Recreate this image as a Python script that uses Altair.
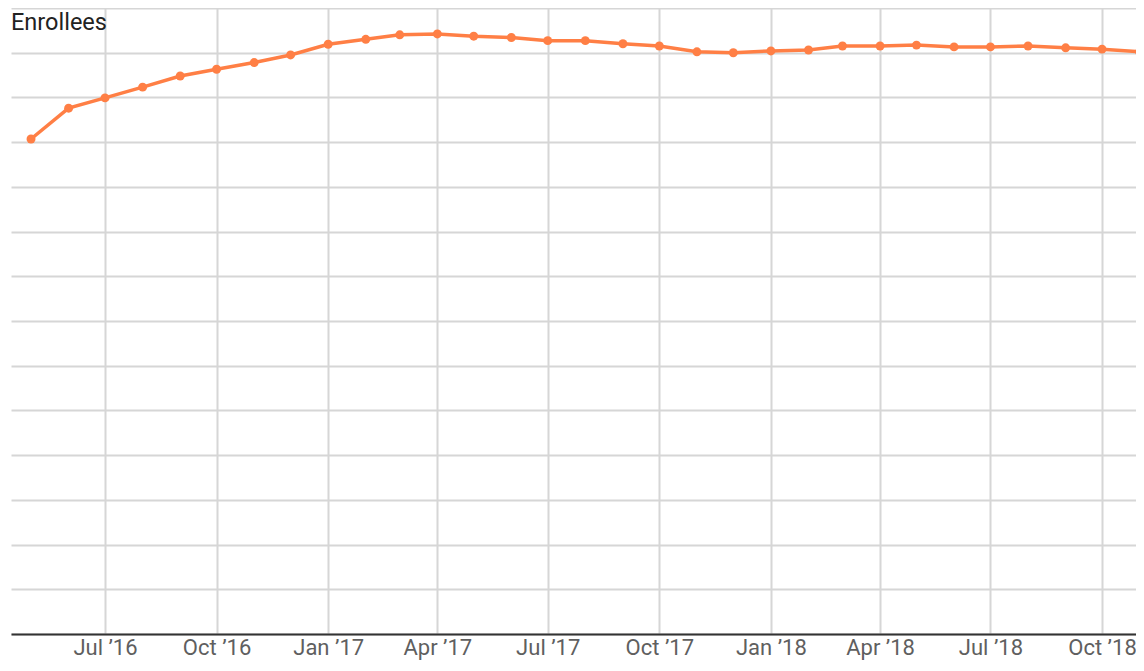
import altair as alt
import pandas as pd

months = [
    "2016-05-01", "2016-06-01", "2016-07-01", "2016-08-01", "2016-09-01", "2016-10-01",
    "2016-11-01", "2016-12-01", "2017-01-01", "2017-02-01", "2017-03-01", "2017-04-01",
    "2017-05-01", "2017-06-01", "2017-07-01", "2017-08-01", "2017-09-01", "2017-10-01",
    "2017-11-01", "2017-12-01", "2018-01-01", "2018-02-01", "2018-03-01", "2018-04-01",
    "2018-05-01", "2018-06-01", "2018-07-01", "2018-08-01", "2018-09-01", "2018-10-01",
    "2018-11-01",
]
enrollees = [
    11070, 11760, 11990, 12230, 12480, 12630,
    12780, 12950, 13190, 13300, 13400, 13420,
    13370, 13340, 13270, 13270, 13200, 13150,
    13020, 13000, 13040, 13060, 13150, 13150,
    13170, 13130, 13130, 13150, 13110, 13080,
    13020,
]

df = pd.DataFrame({"month": pd.to_datetime(months), "enrollees": enrollees})

ORANGE = "#ff7f45"
FONT = "Roboto"

# plot spans page x 11..1136 (svg clipped at the body margin)
x_scale = alt.Scale(domain=["2016-04-14T12:00:00", "2018-10-29T00:00:00"], nice=False)
y_scale = alt.Scale(domain=[0, 14000], nice=False)

x_axis = alt.Axis(
    title=None,
    format="%b \u2019%y",
    tickCount={"interval": "month", "step": 3},
    grid=True,
    gridColor="#d6d6d6",
    gridWidth=2,
    ticks=False,
    tickSize=0,
    domain=True,
    domainColor="#333333",
    domainWidth=2,
    labelFont=FONT,
    labelFontSize=22,
    labelColor="#5f5f5f",
    labelPadding=3,
    labelFlush=False,
)
y_axis = alt.Axis(
    title=None,
    values=list(range(0, 14001, 1000)),
    labels=False,
    ticks=False,
    domain=False,
    grid=True,
    gridColor="#d6d6d6",
    gridWidth=2,
    minExtent=0,
    maxExtent=0,
)

base = alt.Chart(df).encode(
    x=alt.X("month:T", scale=x_scale, axis=x_axis),
    y=alt.Y("enrollees:Q", scale=y_scale, axis=y_axis),
)

line = base.mark_line(color=ORANGE, strokeWidth=3.5)
points = base.mark_circle(color=ORANGE, size=80, opacity=1)

title = alt.Chart(pd.DataFrame({"t": ["Enrollees"]})).mark_text(
    align="left", baseline="alphabetic", font=FONT, fontSize=23.5, color="#222222"
).encode(x=alt.value(0), y=alt.value(22), text="t:N")

chart = (
    alt.layer(line, points, title)
    .properties(
        width=1125,
        height=626,
        padding={"left": 3, "top": 0, "right": 0, "bottom": 29},
        autosize=alt.AutoSizeParams(type="none"),
    )
    .configure_view(stroke=None)
)

chart.save("out.html", embed_options={"renderer": "svg", "actions": False})
